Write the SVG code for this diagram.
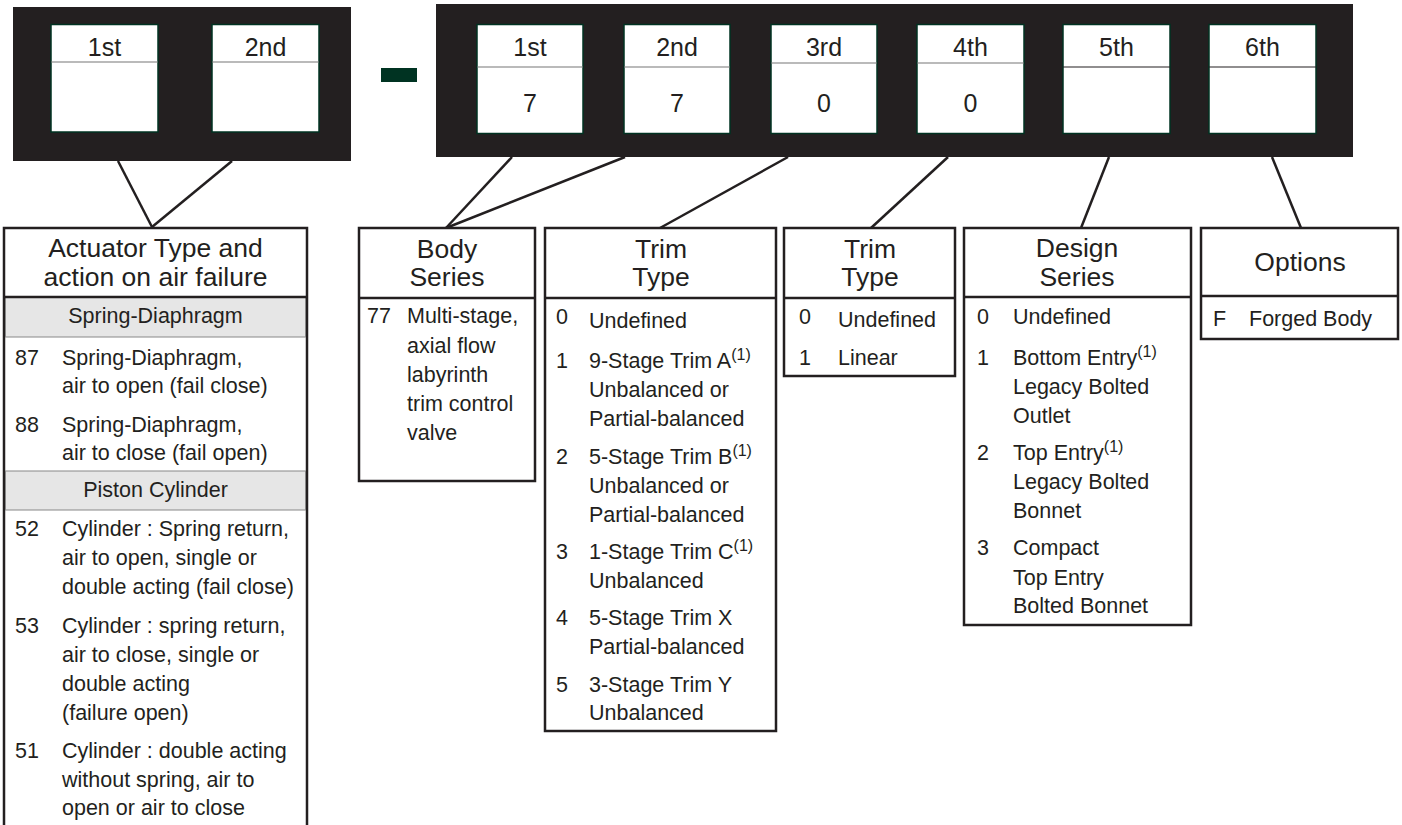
<svg xmlns="http://www.w3.org/2000/svg" width="1402" height="825" viewBox="0 0 1402 825">
<style>
text{font-family:"Liberation Sans",Arial,Helvetica,sans-serif;fill:#231f20}
.lbl{font-size:25px;text-anchor:middle}
.hdr{font-size:26.5px;text-anchor:middle}
.t{font-size:21.5px}
.c{font-size:21.5px;text-anchor:middle}
.sup{font-size:16px}
.blk{fill:#231f20}
.cell{fill:#fff;stroke:#003322;stroke-width:1.5}
.div{stroke:#777;stroke-width:1.2}
.divk{stroke:#231f20;stroke-width:1.2}
.tbl{fill:#fff;stroke:#231f20;stroke-width:2.5}
.hl{stroke:#231f20;stroke-width:2.5}
.band{fill:#e6e6e6;stroke:#888;stroke-width:1}
.con line{stroke:#231f20;stroke-width:2.5}
</style>

<g id="code-left">
  <rect class="blk" x="13" y="7" width="338" height="154"/>
  <rect class="cell" x="51" y="24.5" width="107" height="107.5"/>
  <line class="div" x1="51" y1="62" x2="158" y2="62"/>
  <text class="lbl" x="104.5" y="56">1st</text>
  <rect class="cell" x="212" y="24.5" width="107" height="107.5"/>
  <line class="div" x1="212" y1="62" x2="319" y2="62"/>
  <text class="lbl" x="265.5" y="56">2nd</text>
</g>

<g id="dash">
  <rect x="381" y="68" width="36" height="14" fill="#003322"/>
</g>

<g id="code-right">
  <rect class="blk" x="436" y="4" width="917" height="153"/>
  <rect class="cell" x="477" y="24.5" width="106" height="109"/>
  <line class="div" x1="477" y1="67" x2="583" y2="67"/>
  <text class="lbl" x="530" y="56">1st</text>
  <text class="lbl" x="530" y="112">7</text>
  <rect class="cell" x="624" y="24.5" width="106" height="109"/>
  <line class="div" x1="624" y1="67" x2="730" y2="67"/>
  <text class="lbl" x="677" y="56">2nd</text>
  <text class="lbl" x="677" y="112">7</text>
  <rect class="cell" x="771" y="24.5" width="106" height="109"/>
  <line class="div" x1="771" y1="63" x2="877" y2="63"/>
  <text class="lbl" x="824" y="56">3rd</text>
  <text class="lbl" x="824" y="112">0</text>
  <rect class="cell" x="917" y="24.5" width="107" height="109"/>
  <line class="div" x1="917" y1="63" x2="1024" y2="63"/>
  <text class="lbl" x="970.5" y="56">4th</text>
  <text class="lbl" x="970.5" y="112">0</text>
  <rect class="cell" x="1063" y="24.5" width="107" height="109"/>
  <line class="divk" x1="1063" y1="67" x2="1170" y2="67"/>
  <text class="lbl" x="1116.5" y="56">5th</text>
  <rect class="cell" x="1209" y="24.5" width="107" height="109"/>
  <line class="divk" x1="1209" y1="67" x2="1316" y2="67"/>
  <text class="lbl" x="1262.5" y="56">6th</text>
</g>

<g id="connectors" class="con">
  <line x1="118" y1="161" x2="152" y2="227"/>
  <line x1="232" y1="161" x2="152" y2="227"/>
  <line x1="512" y1="157" x2="446" y2="228"/>
  <line x1="625" y1="157" x2="446" y2="228"/>
  <line x1="788" y1="157" x2="660" y2="228"/>
  <line x1="948" y1="157" x2="871" y2="228"/>
  <line x1="1109" y1="157" x2="1081" y2="228"/>
  <line x1="1272" y1="157" x2="1301" y2="228"/>
</g>

<g id="actuator">
  <path d="M4,830 V228 H307 V830" fill="#fff" stroke="#231f20" stroke-width="2.5"/>
  <text class="hdr" x="155.5" y="257">Actuator Type and</text>
  <text class="hdr" x="155.5" y="286">action on air failure</text>
  <rect class="band" x="5.5" y="297" width="300" height="40"/>
  <line class="hl" x1="4" y1="297" x2="307" y2="297"/>
  <text class="c" x="155.5" y="323">Spring-Diaphragm</text>
  <text class="t" x="15" y="365">87</text>
  <text class="t" x="62" y="365">Spring-Diaphragm,</text>
  <text class="t" x="62" y="393">air to open (fail close)</text>
  <text class="t" x="15" y="432">88</text>
  <text class="t" x="62" y="432">Spring-Diaphragm,</text>
  <text class="t" x="62" y="460">air to close (fail open)</text>
  <rect class="band" x="5.5" y="471" width="300" height="39"/>
  <text class="c" x="155.5" y="497">Piston Cylinder</text>
  <text class="t" x="15" y="536">52</text>
  <text class="t" x="62" y="536">Cylinder : Spring return,</text>
  <text class="t" x="62" y="565">air to open, single or</text>
  <text class="t" x="62" y="594">double acting (fail close)</text>
  <text class="t" x="15" y="633">53</text>
  <text class="t" x="62" y="633">Cylinder : spring return,</text>
  <text class="t" x="62" y="662">air to close, single or</text>
  <text class="t" x="62" y="691">double acting</text>
  <text class="t" x="62" y="720">(failure open)</text>
  <text class="t" x="15" y="758">51</text>
  <text class="t" x="62" y="758">Cylinder : double acting</text>
  <text class="t" x="62" y="787">without spring, air to</text>
  <text class="t" x="62" y="815">open or air to close</text>
</g>

<g id="body-series">
  <rect class="tbl" x="359" y="228" width="176" height="253"/>
  <line class="hl" x1="359" y1="298" x2="535" y2="298"/>
  <text class="hdr" x="447" y="258">Body</text>
  <text class="hdr" x="447" y="286">Series</text>
  <text class="t" x="367" y="323">77</text>
  <text class="t" x="407" y="323">Multi-stage,</text>
  <text class="t" x="407" y="353">axial flow</text>
  <text class="t" x="407" y="382">labyrinth</text>
  <text class="t" x="407" y="411">trim control</text>
  <text class="t" x="407" y="440">valve</text>
</g>

<g id="trim-type-3">
  <rect class="tbl" x="545" y="228" width="231" height="503"/>
  <line class="hl" x1="545" y1="298" x2="776" y2="298"/>
  <text class="hdr" x="661" y="258">Trim</text>
  <text class="hdr" x="661" y="286">Type</text>
  <text class="t" x="556" y="324">0</text>
  <text class="t" x="589" y="328">Undefined</text>
  <text class="t" x="556" y="368">1</text>
  <text class="t" x="589" y="368">9-Stage Trim A<tspan class="sup" dy="-8">(1)</tspan></text>
  <text class="t" x="589" y="397">Unbalanced or</text>
  <text class="t" x="589" y="426">Partial-balanced</text>
  <text class="t" x="556" y="464">2</text>
  <text class="t" x="589" y="464">5-Stage Trim B<tspan class="sup" dy="-8">(1)</tspan></text>
  <text class="t" x="589" y="493">Unbalanced or</text>
  <text class="t" x="589" y="522">Partial-balanced</text>
  <text class="t" x="556" y="559">3</text>
  <text class="t" x="589" y="559">1-Stage Trim C<tspan class="sup" dy="-8">(1)</tspan></text>
  <text class="t" x="589" y="588">Unbalanced</text>
  <text class="t" x="556" y="625">4</text>
  <text class="t" x="589" y="625">5-Stage Trim X</text>
  <text class="t" x="589" y="654">Partial-balanced</text>
  <text class="t" x="556" y="692">5</text>
  <text class="t" x="589" y="692">3-Stage Trim Y</text>
  <text class="t" x="589" y="720">Unbalanced</text>
</g>

<g id="trim-type-4">
  <rect class="tbl" x="784" y="228" width="171" height="148"/>
  <line class="hl" x1="784" y1="298" x2="955" y2="298"/>
  <text class="hdr" x="870" y="258">Trim</text>
  <text class="hdr" x="870" y="286">Type</text>
  <text class="t" x="799" y="324">0</text>
  <text class="t" x="838" y="327">Undefined</text>
  <text class="t" x="799" y="365">1</text>
  <text class="t" x="838" y="365">Linear</text>
</g>

<g id="design-series">
  <rect class="tbl" x="964" y="228" width="227" height="397"/>
  <line class="hl" x1="964" y1="297" x2="1191" y2="297"/>
  <text class="hdr" x="1077" y="257">Design</text>
  <text class="hdr" x="1077" y="286">Series</text>
  <text class="t" x="977" y="324">0</text>
  <text class="t" x="1013" y="324">Undefined</text>
  <text class="t" x="977" y="365">1</text>
  <text class="t" x="1013" y="365">Bottom Entry<tspan class="sup" dy="-8">(1)</tspan></text>
  <text class="t" x="1013" y="394">Legacy Bolted</text>
  <text class="t" x="1013" y="423">Outlet</text>
  <text class="t" x="977" y="460">2</text>
  <text class="t" x="1013" y="460">Top Entry<tspan class="sup" dy="-8">(1)</tspan></text>
  <text class="t" x="1013" y="489">Legacy Bolted</text>
  <text class="t" x="1013" y="518">Bonnet</text>
  <text class="t" x="977" y="555">3</text>
  <text class="t" x="1013" y="555">Compact</text>
  <text class="t" x="1013" y="585">Top Entry</text>
  <text class="t" x="1013" y="613">Bolted Bonnet</text>
</g>

<g id="options">
  <rect class="tbl" x="1201" y="228" width="197" height="111"/>
  <line class="hl" x1="1201" y1="296" x2="1398" y2="296"/>
  <text class="hdr" x="1300" y="271">Options</text>
  <text class="t" x="1213" y="326">F</text>
  <text class="t" x="1249" y="326">Forged Body</text>
</g>
</svg>
